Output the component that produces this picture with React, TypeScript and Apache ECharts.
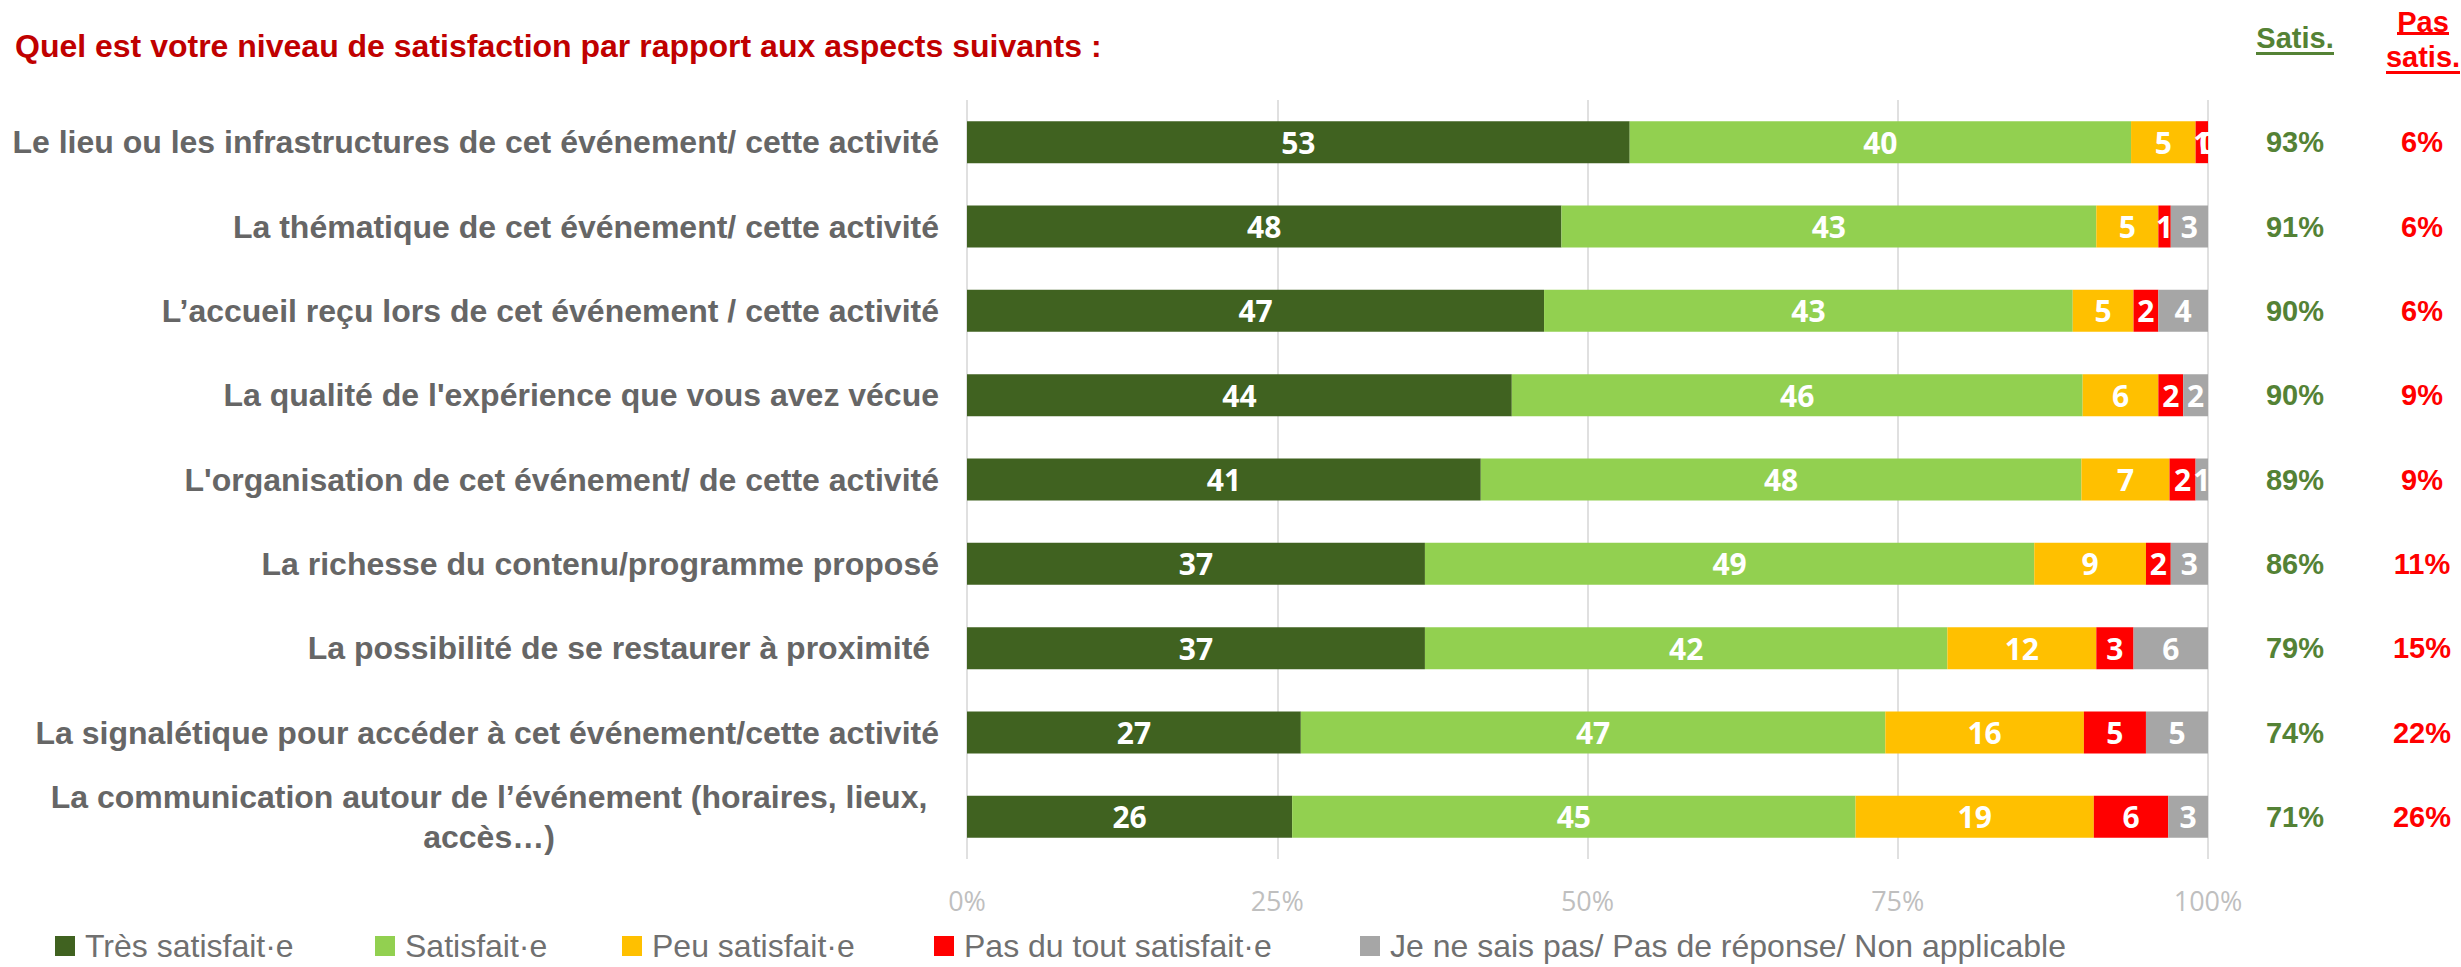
import React, { useEffect, useRef } from "react";
import * as echarts from "echarts";

const categories = [
  "Le lieu ou les infrastructures de cet événement/ cette activité",
  "La thématique de cet événement/ cette activité",
  "L’accueil reçu lors de cet événement / cette activité",
  "La qualité de l'expérience que vous avez vécue",
  "L'organisation de cet événement/ de cette activité",
  "La richesse du contenu/programme proposé",
  "La possibilité de se restaurer à proximité ",
  "La signalétique pour accéder à cet événement/cette activité",
  "La communication autour de l’événement (horaires, lieux, accès…)",
];

const seriesNames = [
  "Très satisfait·e",
  "Satisfait·e",
  "Peu satisfait·e",
  "Pas du tout satisfait·e",
  "Je ne sais pas/ Pas de réponse/ Non applicable",
];

const tresSatisfait = [53.4, 47.9, 46.5, 43.9, 41.4, 36.9, 36.9, 26.9, 26.2];
const satisfait = [40.4, 43.1, 42.6, 46.0, 48.4, 49.1, 42.1, 47.1, 45.4];
const peuSatisfait = [5.2, 5.0, 4.9, 6.1, 7.1, 9.0, 12.0, 16.0, 19.2];
const pasDuTout = [1.0, 1.0, 2.0, 2.0, 2.1, 2.0, 3.0, 5.0, 6.0];
const neSaisPas = [0, 3.0, 4.0, 2.0, 1.0, 3.0, 6.0, 5.0, 3.2];

const satisTotals = [93, 91, 90, 90, 89, 86, 79, 74, 71];
const pasSatisTotals = [6, 6, 6, 9, 9, 11, 15, 22, 26];

const xTicks = [0, 25, 50, 75, 100];

const colors = ["#406220", "#92D050", "#FFC000", "#FF0000", "#A6A6A6"];

const ARIAL = "'Liberation Sans', Arial, sans-serif";
const CALIBRI = "'Open Sans', sans-serif";
const LABEL_GRAY = "#666666";

let measureCtx: CanvasRenderingContext2D | null = null;
function wrapText(s: string, maxW: number): string[] {
  if (!measureCtx) {
    const c = document.createElement("canvas");
    measureCtx = c.getContext("2d");
  }
  const ctx = measureCtx!;
  ctx.font = "bold 32px 'Liberation Sans'";
  if (ctx.measureText(s).width <= maxW) return [s];
  const words = s.split(" ");
  const lines: string[] = [];
  let cur = "";
  for (const w of words) {
    const t = cur ? cur + " " + w : w;
    if (ctx.measureText(t).width > 880 && cur) {
      lines.push(cur);
      cur = w;
    } else cur = t;
  }
  if (cur) lines.push(cur);
  return lines;
}

const legendLefts = [50, 370, 617, 929, 1355];

export default function App() {
  const ref = useRef<HTMLDivElement>(null);

  useEffect(() => {
    if (!ref.current) return;
    const chart = echarts.init(ref.current, null, { renderer: "svg" });

    const dataSets = [tresSatisfait, satisfait, peuSatisfait, pasDuTout, neSaisPas];

    const series = dataSets.map((d, i) => ({
      name: seriesNames[i],
      type: "bar",
      stack: "total",
      barWidth: 42,
      data: d,
      itemStyle: { color: colors[i] },
      label: {
        show: true,
        position: "inside",
        color: "#FFFFFF",
        fontFamily: CALIBRI,
        fontWeight: "bold",
        fontSize: 30,
        formatter: (p: any) => String(Math.round(p.value)),
      },
    }));

    const sideAxis = (vals: number[], margin: number, color: string) => ({
      type: "category",
      data: categories,
      inverse: true,
      position: "right",
      offset: 0,
      axisLine: { show: false },
      axisTick: { show: false },
      splitLine: { show: false },
      axisLabel: {
        margin,
        align: "center",
        color,
        fontFamily: ARIAL,
        fontWeight: "bold",
        fontSize: 29,
        formatter: (_v: string, idx: number) => vals[idx] + "%",
      },
    });

    const legends = seriesNames.map((n, i) => ({
      left: legendLefts[i],
      top: 925,
      itemWidth: 20,
      itemHeight: 20,
      icon: "rect",
      data: [n],
      selectedMode: false,
      textStyle: {
        color: "#707070",
        fontFamily: ARIAL,
        fontSize: 32,
        padding: [0, 0, 0, 5],
      },
    }));

    const option: any = {
      animation: false,
      backgroundColor: "#FFFFFF",
      title: {
        text: "Quel est votre niveau de satisfaction par rapport aux aspects suivants :",
        left: 10,
        top: 25,
        textStyle: {
          color: "#C00000",
          fontFamily: ARIAL,
          fontWeight: "bold",
          fontSize: 32,
        },
      },
      grid: { left: 967, right: 253, top: 100, bottom: 108 },
      xAxis: {
        type: "value",
        min: 0,
        max: 100,
        interval: 25,
        axisLine: { show: false },
        axisTick: { show: false },
        splitLine: { show: true, lineStyle: { color: "#E0E0E0", width: 2 } },
        axisLabel: {
          margin: 28,
          color: "#BFBFBF",
          fontFamily: CALIBRI,
          fontSize: 27,
          formatter: (v: number) => (xTicks.includes(v) ? v + "%" : ""),
        },
      },
      yAxis: [
        {
          type: "category",
          data: categories,
          inverse: true,
          axisLine: { show: false },
          axisTick: { show: false },
          axisLabel: {
            margin: 28,
            color: LABEL_GRAY,
            fontFamily: ARIAL,
            fontWeight: "bold",
            fontSize: 32,
            formatter: (v: string) => {
              const lines = wrapText(v, 940);
              if (lines.length === 1) return v;
              return lines.map((l) => `{w|${l}}`).join("\n");
            },
            rich: {
              w: {
                width: 900,
                align: "center",
                color: LABEL_GRAY,
                fontFamily: ARIAL,
                fontWeight: "bold",
                fontSize: 32,
                lineHeight: 40,
              },
            },
          },
        },
        sideAxis(satisTotals, 87, "#548235"),
        sideAxis(pasSatisTotals, 214, "#FF0000"),
      ],
      legend: legends,
      graphic: [
        {
          type: "text",
          x: 2295,
          y: 38,
          style: {
            text: "Satis.",
            fill: "#548235",
            font: `bold 29px ${ARIAL}`,
            textAlign: "center",
            textVerticalAlign: "middle",
          },
        },
        { type: "rect", shape: { x: 2256, y: 52, width: 78, height: 3 }, style: { fill: "#548235" } },
        {
          type: "text",
          x: 2423,
          y: 22,
          style: {
            text: "Pas",
            fill: "#FF0000",
            font: `bold 29px ${ARIAL}`,
            textAlign: "center",
            textVerticalAlign: "middle",
          },
        },
        { type: "rect", shape: { x: 2397, y: 32, width: 52, height: 3 }, style: { fill: "#FF0000" } },
        {
          type: "text",
          x: 2423,
          y: 57,
          style: {
            text: "satis.",
            fill: "#FF0000",
            font: `bold 29px ${ARIAL}`,
            textAlign: "center",
            textVerticalAlign: "middle",
          },
        },
        { type: "rect", shape: { x: 2386, y: 71, width: 74, height: 3 }, style: { fill: "#FF0000" } },
      ],
      series,
    };

    chart.setOption(option);
    return () => chart.dispose();
  }, []);

  return (
    <div
      ref={ref}
      style={{ position: "fixed", left: 0, top: 0, width: 2461, height: 967 }}
    />
  );
}
